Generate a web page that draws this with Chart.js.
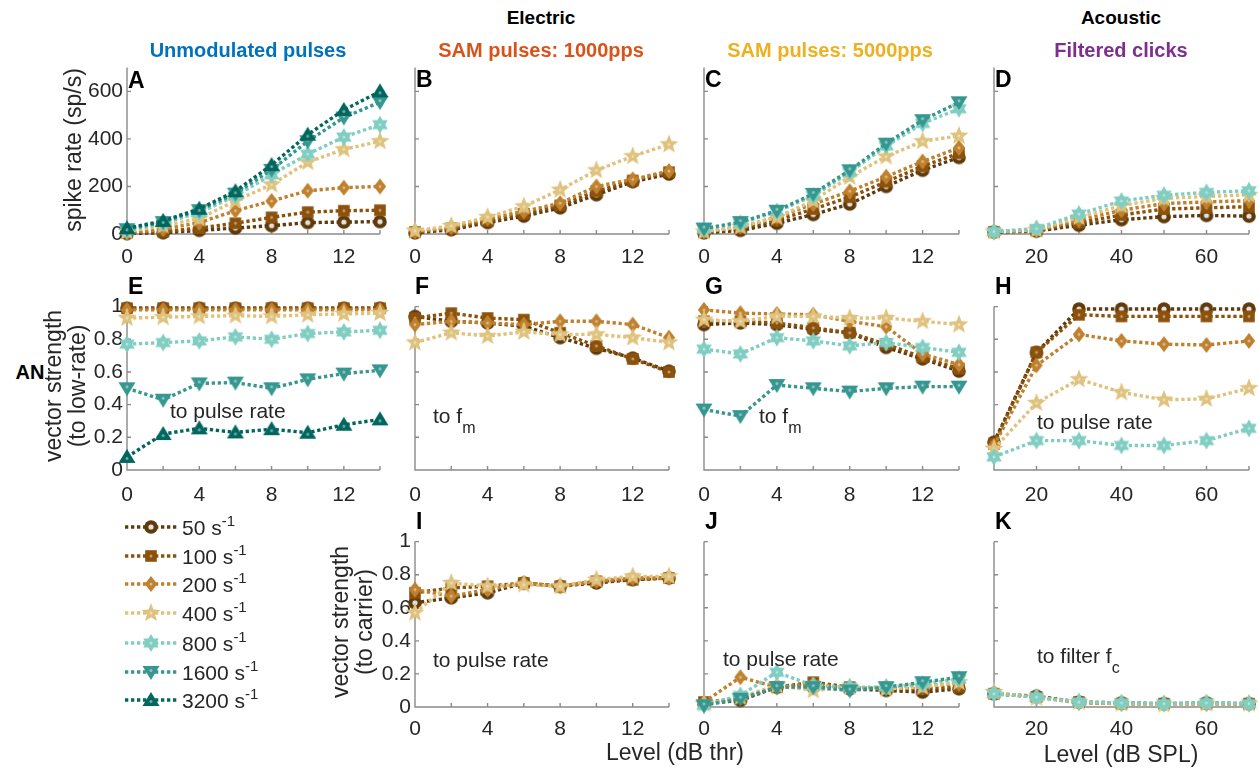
<!DOCTYPE html>
<html><head><meta charset="utf-8">
<script src="https://cdn.jsdelivr.net/npm/chart.js@4.4.1/dist/chart.umd.min.js"></script>
<style>
body{margin:0;background:#fff;}
#fig{position:relative;width:1259px;height:774px;overflow:hidden;font-family:'Liberation Sans',Arial,sans-serif;color:#262626;}
.t{position:absolute;white-space:nowrap;line-height:1;}
canvas{position:absolute;}
</style></head><body><div id="fig"></div>
<script>
// ---------- data ----------
const rates = ['50', '100', '200', '400', '800', '1600', '3200'];
const levelsDbThr = [0, 2, 4, 6, 8, 10, 12, 14];
const levelsDbSpl = [10, 20, 30, 40, 50, 60, 70];
const rateTicks = [0, 200, 400, 600];
const vsTicks = [0, 0.2, 0.4, 0.6, 0.8, 1];

// spike rate (sp/s); rows = 50,100,200,400,800,1600,3200 s^-1
const rateA = [
  [2, 5, 15, 25, 35, 48, 50, 52],
  [5, 10, 25, 45, 70, 92, 98, 100],
  [5, 20, 48, 98, 139, 182, 195, 200],
  [10, 35, 65, 140, 208, 302, 356, 390],
  [15, 45, 90, 160, 249, 336, 408, 460],
  [20, 50, 100, 170, 270, 390, 490, 555],
  [24, 55, 106, 180, 290, 418, 522, 600]
];
const rateB = [
  [5, 18, 48, 75, 110, 165, 220, 252],
  [8, 24, 55, 85, 120, 180, 225, 260],
  [10, 28, 65, 95, 130, 200, 230, 265],
  [14, 34, 71, 116, 186, 268, 327, 377]
];
const rateC = [
  [5, 15, 45, 82, 126, 200, 268, 322],
  [8, 25, 58, 105, 155, 220, 285, 340],
  [10, 30, 71, 126, 180, 241, 305, 363],
  [10, 30, 70, 140, 240, 326, 390, 413],
  [20, 45, 95, 160, 260, 370, 465, 527],
  [23, 50, 98, 169, 268, 380, 479, 554]
];
const rateD = [
  [8, 12, 37, 60, 73, 78, 75],
  [9, 14, 48, 80, 105, 110, 115],
  [10, 16, 58, 100, 128, 135, 140],
  [10, 18, 70, 120, 150, 158, 165],
  [10, 23, 84, 139, 163, 175, 182]
];
// vector strength to low rate
const vsE = [
  [0.99, 0.99, 0.99, 0.99, 0.99, 0.99, 0.99, 0.99],
  [0.99, 0.99, 0.99, 0.99, 0.99, 0.99, 0.99, 0.99],
  [0.98, 0.98, 0.98, 0.98, 0.98, 0.98, 0.98, 0.98],
  [0.93, 0.935, 0.94, 0.945, 0.94, 0.95, 0.955, 0.96],
  [0.77, 0.78, 0.79, 0.815, 0.80, 0.835, 0.845, 0.855],
  [0.50, 0.43, 0.53, 0.535, 0.50, 0.555, 0.59, 0.61],
  [0.08, 0.22, 0.255, 0.23, 0.25, 0.228, 0.277, 0.31]
];
const vsF = [
  [0.94, 0.91, 0.90, 0.88, 0.81, 0.745, 0.685, 0.605],
  [0.93, 0.96, 0.93, 0.92, 0.84, 0.76, 0.68, 0.60],
  [0.89, 0.91, 0.90, 0.89, 0.91, 0.91, 0.89, 0.81],
  [0.78, 0.84, 0.82, 0.845, 0.83, 0.83, 0.81, 0.78]
];
const vsG = [
  [0.89, 0.90, 0.89, 0.86, 0.84, 0.75, 0.68, 0.605],
  [0.91, 0.91, 0.90, 0.87, 0.84, 0.77, 0.69, 0.62],
  [0.98, 0.96, 0.955, 0.95, 0.91, 0.877, 0.71, 0.645],
  [0.92, 0.91, 0.94, 0.94, 0.93, 0.93, 0.91, 0.89],
  [0.74, 0.71, 0.81, 0.79, 0.76, 0.78, 0.75, 0.72],
  [0.37, 0.33, 0.52, 0.50, 0.48, 0.50, 0.51, 0.51]
];
const vsH = [
  [0.17, 0.72, 0.985, 0.985, 0.985, 0.985, 0.985],
  [0.16, 0.72, 0.95, 0.94, 0.94, 0.94, 0.94],
  [0.15, 0.64, 0.83, 0.79, 0.77, 0.765, 0.79],
  [0.13, 0.41, 0.555, 0.475, 0.43, 0.435, 0.50],
  [0.08, 0.18, 0.18, 0.15, 0.15, 0.18, 0.255]
];
// vector strength to carrier
const vsI = [
  [0.63, 0.66, 0.69, 0.75, 0.73, 0.75, 0.77, 0.78],
  [0.69, 0.72, 0.73, 0.75, 0.73, 0.76, 0.77, 0.78],
  [0.71, 0.67, 0.71, 0.75, 0.73, 0.76, 0.78, 0.78],
  [0.57, 0.75, 0.73, 0.74, 0.73, 0.77, 0.79, 0.79]
];
const vsJ = [
  [0.02, 0.04, 0.12, 0.12, 0.11, 0.10, 0.09, 0.11],
  [0.03, 0.05, 0.12, 0.15, 0.12, 0.11, 0.11, 0.12],
  [0.03, 0.18, 0.12, 0.14, 0.11, 0.12, 0.13, 0.14],
  [0.02, 0.06, 0.13, 0.10, 0.12, 0.11, 0.12, 0.15],
  [0.01, 0.07, 0.21, 0.13, 0.12, 0.12, 0.14, 0.17],
  [0.01, 0.05, 0.12, 0.12, 0.10, 0.12, 0.15, 0.18]
];
const vsK = [
  [0.08, 0.065, 0.03, 0.025, 0.02, 0.025, 0.02],
  [0.08, 0.06, 0.03, 0.02, 0.02, 0.02, 0.02],
  [0.085, 0.06, 0.025, 0.02, 0.02, 0.02, 0.02],
  [0.09, 0.055, 0.03, 0.02, 0.015, 0.02, 0.02],
  [0.08, 0.06, 0.03, 0.025, 0.02, 0.025, 0.02]
];

// ---------- style ----------
const colors = ['#5e3a0c', '#8c510a', '#bf812d', '#dfc27d', '#80cdc1', '#35978f', '#01665e'];
const shapes = ['circle', 'square', 'diamond', 'pentagram', 'hexagram', 'triDown', 'triUp'];
const FONT = "'Liberation Sans', Arial, sans-serif";
Chart.defaults.font.family = FONT;
const fig = document.getElementById('fig');

function starPath(x, n, R, r) {
  for (let i = 0; i < 2 * n; i++) {
    const a = -Math.PI / 2 + i * Math.PI / n;
    const rr = i % 2 ? r : R;
    const px = rr * Math.cos(a), py = rr * Math.sin(a);
    if (i === 0) x.moveTo(px, py); else x.lineTo(px, py);
  }
  x.closePath();
}
function marker(shape, color) {
  const S = 22, c = document.createElement('canvas');
  c.width = S; c.height = S;
  const x = c.getContext('2d');
  x.translate(S / 2, S / 2);
  x.fillStyle = color; x.beginPath();
  let cy = 0;
  if (shape === 'circle') x.arc(0, 0, 6.8, 0, 2 * Math.PI);
  else if (shape === 'square') x.rect(-5.8, -5.8, 11.6, 11.6);
  else if (shape === 'diamond') { x.moveTo(0, -8); x.lineTo(6.2, 0); x.lineTo(0, 8); x.lineTo(-6.2, 0); x.closePath(); }
  else if (shape === 'pentagram') starPath(x, 5, 10, 4.2);
  else if (shape === 'hexagram') starPath(x, 6, 9, 5.2);
  else if (shape === 'triDown') { x.moveTo(-8.5, -6); x.lineTo(8.5, -6); x.lineTo(0, 8); x.closePath(); cy = -1.5; }
  else if (shape === 'triUp') { x.moveTo(-8.5, 6); x.lineTo(8.5, 6); x.lineTo(0, -8); x.closePath(); cy = 1.5; }
  x.fill();
  x.beginPath();
  x.fillStyle = shape === 'circle' ? 'rgba(255,255,255,0.85)' : 'rgba(255,255,255,0.45)';
  x.arc(0, cy, shape === 'circle' ? 2.6 : 1.5, 0, 2 * Math.PI);
  x.fill();
  return c;
}
const markers = shapes.map((s, i) => marker(s, colors[i]));

const axesPlugin = {
  id: 'axesIn',
  beforeDatasetsDraw(chart) {
    const {ctx, chartArea: a, scales: {x, y}} = chart;
    ctx.save();
    ctx.strokeStyle = '#8a8a8a'; ctx.lineWidth = 1.4;
    ctx.beginPath();
    ctx.moveTo(a.left, a.top); ctx.lineTo(a.left, a.bottom); ctx.lineTo(a.right, a.bottom);
    x.ticks.forEach(t => { const p = x.getPixelForValue(t.value); ctx.moveTo(p, a.bottom); ctx.lineTo(p, a.bottom - 4); });
    y.ticks.forEach(t => { const p = y.getPixelForValue(t.value); ctx.moveTo(a.left, p); ctx.lineTo(a.left + 4, p); });
    ctx.stroke();
    ctx.restore();
  }
};

const padL = 62, padR = 14, padT = 12, padB = 44;
function panel(box, xs, series, xcfg, ycfg) {
  const cv = document.createElement('canvas');
  const W = box.r - box.l + padL + padR, H = box.b - box.t + padT + padB;
  cv.width = W; cv.height = H;
  cv.style.left = (box.l - padL) + 'px'; cv.style.top = (box.t - padT) + 'px';
  cv.style.width = W + 'px'; cv.style.height = H + 'px';
  fig.appendChild(cv);
  const datasets = [];
  for (let i = series.length - 1; i >= 0; i--) {
    datasets.push({
      label: rates[i] + ' s-1',
      data: xs.map((xv, k) => ({x: xv, y: series[i][k]})),
      borderColor: colors[i], backgroundColor: colors[i],
      borderWidth: 3.4, borderDash: [3.3, 2.7], borderCapStyle: 'butt',
      pointStyle: markers[i], pointRadius: 8, pointHoverRadius: 8,
      clip: false, fill: false, tension: 0
    });
  }
  const mkTicks = (cfg) => s => { s.ticks = cfg.ticks.map(v => ({value: v})); };
  const lab = (cfg) => v => (cfg.labels && cfg.labels.some(l => Math.abs(l - v) < 1e-9)) ? String(+Number(v).toFixed(2)) : '';
  new Chart(cv, {
    type: 'line',
    data: {datasets},
    options: {
      responsive: false, animation: false, devicePixelRatio: 1,
      layout: {padding: {left: 0, top: padT, right: padR, bottom: 0}},
      plugins: {legend: {display: false}, tooltip: {enabled: false}},
      events: [],
      scales: {
        x: {type: 'linear', min: xcfg.min, max: xcfg.max,
            afterBuildTicks: mkTicks(xcfg), afterFit: s => { s.height = padB; },
            grid: {display: false, drawTicks: false}, border: {display: false},
            ticks: {padding: xcfg.pad, color: '#262626', font: {size: 21}, autoSkip: false, maxRotation: 0, minRotation: 0, callback: lab(xcfg)}},
        y: {type: 'linear', min: ycfg.min, max: ycfg.max,
            afterBuildTicks: mkTicks(ycfg), afterFit: s => { s.width = padL; },
            grid: {display: false, drawTicks: false}, border: {display: false},
            ticks: {padding: 4, color: '#262626', font: {size: 21}, autoSkip: false, callback: lab(ycfg)}}
      }
    },
    plugins: [axesPlugin]
  });
}

const cols = [{l: 127, r: 380}, {l: 415, r: 669}, {l: 704, r: 959}, {l: 994, r: 1249}];
const rows = [{t: 63, b: 234}, {t: 302, b: 470}, {t: 537, b: 707}];
const box = (c, r) => ({l: cols[c].l, r: cols[c].r, t: rows[r].t, b: rows[r].b});
const xThr = p => ({min: 0, max: 14, ticks: levelsDbThr, labels: [0, 4, 8, 12], pad: p});
const xSpl = p => ({min: 10, max: 70, ticks: levelsDbSpl, labels: [20, 40, 60], pad: p});
const yRate = show => ({min: 0, max: 700, ticks: rateTicks, labels: show ? rateTicks : null});
const yVs = show => ({min: 0, max: 1, ticks: vsTicks, labels: show ? vsTicks : null});

panel(box(0, 0), levelsDbThr, rateA, xThr(11), yRate(true));
panel(box(1, 0), levelsDbThr, rateB, xThr(11), yRate(false));
panel(box(2, 0), levelsDbThr, rateC, xThr(11), yRate(false));
panel(box(3, 0), levelsDbSpl, rateD, xSpl(11), yRate(false));
panel(box(0, 1), levelsDbThr, vsE, xThr(13), yVs(true));
panel(box(1, 1), levelsDbThr, vsF, xThr(13), yVs(false));
panel(box(2, 1), levelsDbThr, vsG, xThr(13), yVs(false));
panel(box(3, 1), levelsDbSpl, vsH, xSpl(13), yVs(false));
panel(box(1, 2), levelsDbThr, vsI, xThr(10), yVs(true));
panel(box(2, 2), levelsDbThr, vsJ, xThr(10), yVs(false));
panel(box(3, 2), levelsDbSpl, vsK, xSpl(10), yVs(false));

// ---------- text ----------
function T(html, x, y, o = {}) {
  const d = document.createElement('div');
  d.className = 't';
  d.innerHTML = html;
  d.style.left = x + 'px'; d.style.top = y + 'px';
  d.style.fontSize = (o.size || 21) + 'px';
  if (o.bold) d.style.fontWeight = 'bold';
  if (o.color) d.style.color = o.color;
  if (o.rot) d.style.transform = 'translate(-50%,-50%) rotate(-90deg)';
  else if (o.align === 'center') d.style.transform = 'translate(-50%,-50%)';
  else d.style.transform = 'translate(0,-50%)';
  fig.appendChild(d);
}
const sub = s => `<span style="font-size:16px;position:relative;top:10px">${s}</span>`;
const sup = s => `<span style="font-size:15px;position:relative;top:-9px">${s}</span>`;

T('Electric', 541, 17, {bold: true, size: 19, align: 'center', color: '#000'});
T('Acoustic', 1121, 17, {bold: true, size: 19, align: 'center', color: '#000'});
T('Unmodulated pulses', 248, 50, {bold: true, size: 20, align: 'center', color: '#0072BD'});
T('SAM pulses: 1000pps', 541, 50, {bold: true, size: 20, align: 'center', color: '#D95319'});
T('SAM pulses: 5000pps', 830, 50, {bold: true, size: 20, align: 'center', color: '#EDB120'});
T('Filtered clicks', 1121, 50, {bold: true, size: 20, align: 'center', color: '#7E2F8E'});

T('spike rate (sp/s)', 73, 150, {size: 23, rot: true});
T('AN', 30, 372, {bold: true, size: 20, align: 'center', color: '#000'});
T('vector strength', 53, 386, {size: 23, rot: true});
T('(to low-rate)', 77, 386, {size: 23, rot: true});
T('vector strength', 340, 622, {size: 23, rot: true});
T('(to carrier)', 364, 622, {size: 23, rot: true});
T('Level (dB thr)', 675, 752, {size: 23, align: 'center'});
T('Level (dB SPL)', 1121, 754, {size: 23, align: 'center'});

const letters = [['A', 128, 80], ['B', 416, 79], ['C', 705, 79], ['D', 995, 79],
  ['E', 128, 286], ['F', 415, 286], ['G', 705, 286], ['H', 995, 286],
  ['I', 416, 521], ['J', 705, 521], ['K', 995, 521]];
letters.forEach(([s, x, y]) => T(s, x, y, {bold: true, size: 23, color: '#000'}));

T('to pulse rate', 170, 410);
T('to f' + sub('m'), 433, 415);
T('to f' + sub('m'), 759, 415);
T('to pulse rate', 1037, 421);
T('to pulse rate', 433, 659);
T('to pulse rate', 723, 658);
T('to filter f' + sub('c'), 1037, 655);

// ---------- legend ----------
const legY = [527, 556, 584, 613, 643, 672, 700];
const lg = document.createElement('canvas');
lg.width = 80; lg.height = 210; lg.style.left = '115px'; lg.style.top = '510px';
fig.appendChild(lg);
const lc = lg.getContext('2d');
rates.forEach((r, i) => {
  const y = legY[i] - 510;
  lc.save();
  lc.strokeStyle = colors[i]; lc.lineWidth = 3.4; lc.setLineDash([3.3, 2.7]);
  lc.beginPath(); lc.moveTo(10, y); lc.lineTo(63, y); lc.stroke();
  lc.restore();
  lc.drawImage(markers[i], 36 - 11, y - 11);
  T(r + ' s' + sup('-1'), 182, legY[i]);
});
</script></body></html>
